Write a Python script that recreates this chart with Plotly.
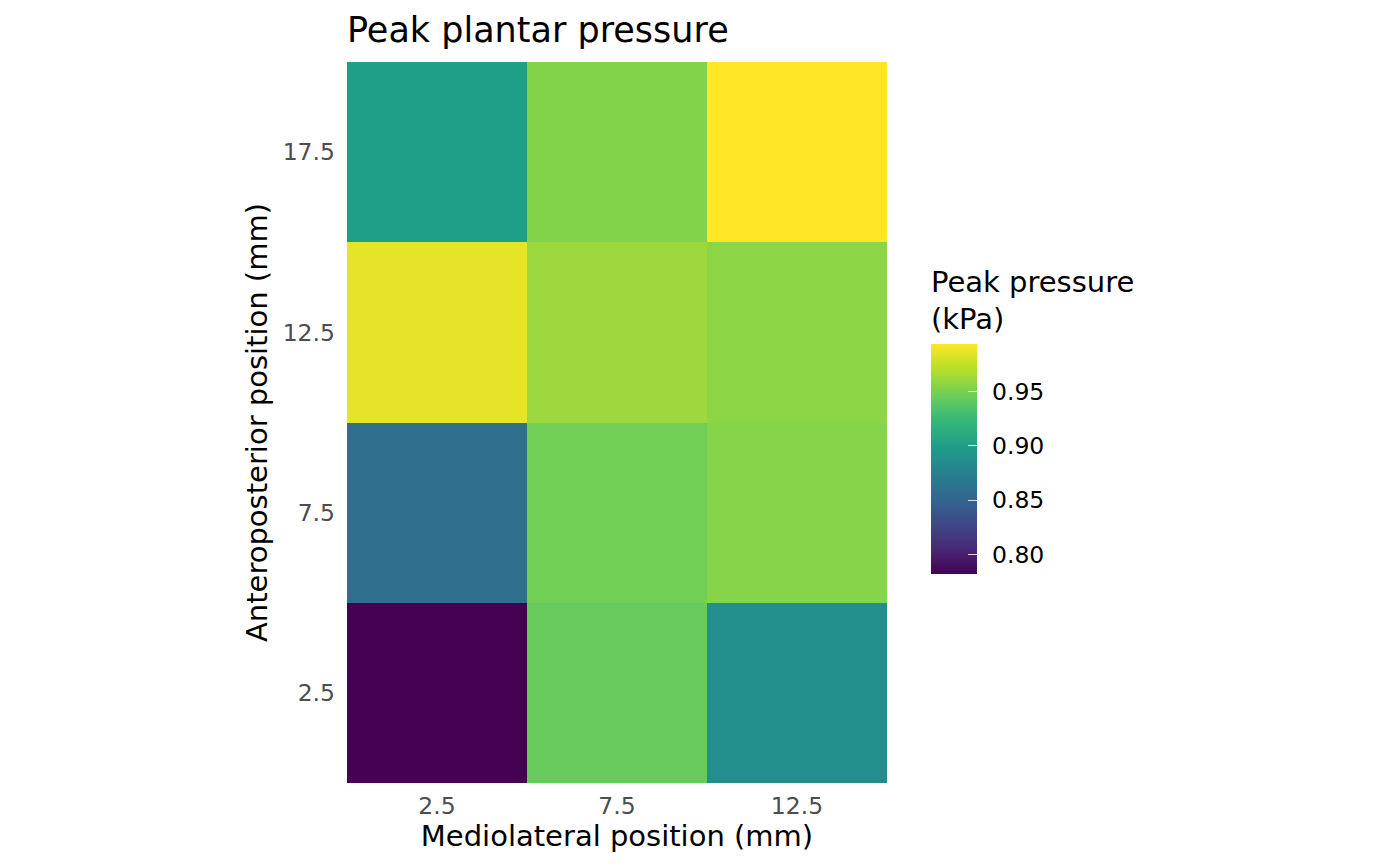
import plotly.graph_objects as go

# cell centres (mm)
ml_pos = [2.5, 7.5, 12.5]
ap_pos = [2.5, 7.5, 12.5, 17.5]

# peak pressure (kPa), one row per anteroposterior position
peak_2_5 = [0.782, 0.944, 0.886]
peak_7_5 = [0.859, 0.948, 0.955]
peak_12_5 = [0.986, 0.962, 0.957]
peak_17_5 = [0.901, 0.954, 0.994]

cbar_ticks = [0.80, 0.85, 0.90, 0.95]

FONT = 'DejaVu Sans'

# the page has an 8px body margin, so the plot box is placed 8px further up/left
fig = go.Figure(go.Heatmap(
    x=ml_pos,
    y=ap_pos,
    z=[peak_2_5, peak_7_5, peak_12_5, peak_17_5],
    colorscale='Viridis',
    xgap=0, ygap=0,
    colorbar={
        'title': {'text': 'Peak pressure<br>(kPa)', 'side': 'top',
                  'font': {'size': 29, 'color': 'black', 'family': FONT}},
        'x': (931 - 347) / 540, 'xanchor': 'left', 'xpad': 0,
        'y': 0.5028, 'yanchor': 'middle', 'ypad': 0,
        'len': 307, 'lenmode': 'pixels',
        'thickness': 46,
        'outlinewidth': 0,
        'tickvals': cbar_ticks,
        'ticktext': ['\u00a0\u200a%.2f' % v for v in cbar_ticks],
        'ticks': 'inside', 'ticklen': 9, 'tickcolor': 'rgba(255,255,255,0.8)',
        'tickfont': {'size': 23.5, 'color': 'black', 'family': FONT},
    },
))

fig.update_layout(
    width=1400, height=866,
    margin={'l': 339, 'r': 521, 't': 54, 'b': 91},
    paper_bgcolor='white',
    plot_bgcolor='white',
    font={'family': FONT},
    title={'text': 'Peak plantar pressure', 'x': 339 / 1400, 'xanchor': 'left',
           'y': 0.975, 'yanchor': 'middle',
           'font': {'size': 35, 'color': 'black', 'family': FONT}},
    xaxis={
        'title': {'text': 'Mediolateral position (mm)', 'standoff': 4,
                  'font': {'size': 29, 'color': 'black'}},
        'range': [0, 15], 'tickvals': ml_pos, 'ticktext': [str(v) for v in ml_pos],
        'tickfont': {'size': 23.5, 'color': '#4D4D4D'},
        'ticklabelstandoff': 6,
        'showgrid': False, 'zeroline': False, 'showline': False,
    },
    yaxis={
        'title': {'text': 'Anteroposterior position (mm)', 'standoff': 6,
                  'font': {'size': 29, 'color': 'black'}},
        'range': [0, 20], 'tickvals': ap_pos, 'ticktext': [str(v) for v in ap_pos],
        'tickfont': {'size': 23.5, 'color': '#4D4D4D'},
        'ticklabelstandoff': 11,
        'showgrid': False, 'zeroline': False, 'showline': False,
    },
)

fig.write_html("out.html")
